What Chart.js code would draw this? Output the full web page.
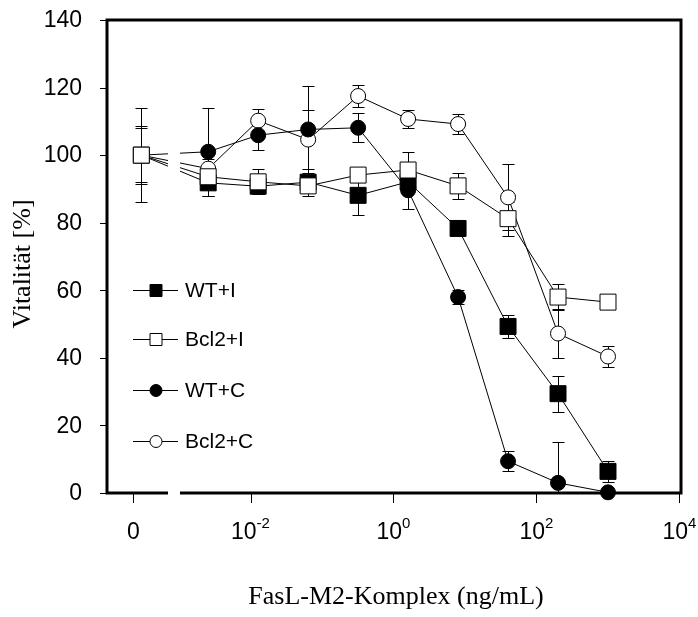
<!DOCTYPE html>
<html>
<head>
<meta charset="utf-8">
<script src="https://cdn.jsdelivr.net/npm/chart.js@4/dist/chart.umd.min.js"></script>
<style>
  html, body { margin: 0; padding: 0; background: #fff; }
  canvas { display: block; }
</style>
</head>
<body>
<canvas id="c" width="698" height="617"></canvas>
<script>
// FasL-M2 complex concentrations (ng/mL); 0 is the untreated control
const concentrations = [0, 0.00256, 0.0128, 0.064, 0.32, 1.6, 8, 40, 200, 1000];

// Viability (%) and error (+/-) per group
const wtI      = [100, 91.8, 90.8, 92.0, 88.1, 92.1, 78.3, 49.3, 29.4, 6.4];
const wtIErr   = [8.5, 4.0, 2.0, 2.0, 5.7, 3.0, 1.5, 3.4, 5.3, 3.2];
const bcl2I    = [100, 93.6, 92.1, 90.9, 94.1, 95.6, 90.9, 81.2, 58.0, 56.5];
const bcl2IErr = [2.0, 2.5, 3.7, 3.0, 2.0, 5.2, 3.8, 5.0, 3.8, 1.5];
const wtC      = [100, 101.0, 105.9, 107.6, 108.1, 89.6, 58.0, 9.4, 3.0, 0.2];
const wtCErr   = [14.0, 13.0, 4.4, 13.0, 4.3, 5.5, 2.0, 3.0, 12.0, 0.5];
const bcl2C    = [100, 96.0, 110.2, 104.6, 117.5, 110.7, 109.2, 87.5, 47.2, 40.4];
const bcl2CErr = [8.0, 3.0, 3.5, 8.7, 3.2, 2.8, 3.0, 9.8, 7.2, 3.0];

const seriesNames = ['WT+I', 'Bcl2+I', 'WT+C', 'Bcl2+C'];

// Axis ticks
const yTicks = [0, 20, 40, 60, 80, 100, 120, 140];
const xTickExponents = [-2, 0, 2, 4];
const zeroTickLabel = '0';

// The x axis is in log10 units; the control group sits left of an axis break
const ZERO_POS = -3.527;       // where the 0 ng/mL points are drawn
const ZERO_TICK_POS = -3.639;  // where the "0" tick sits
const AXIS_BREAK = [-3.154, -2.986];

const xPos = concentrations.map(c => (c === 0 ? ZERO_POS : Math.log10(c)));
const toPoints = vals => vals.map((v, i) => ({ x: xPos[i], y: v }));

const errors = [wtIErr, bcl2IErr, wtCErr, bcl2CErr];

function series(name, vals, style, filled, order) {
  return {
    label: name,
    data: toPoints(vals),
    borderColor: '#000',
    borderWidth: 1,
    pointStyle: style,
    pointRadius: style === 'rect' ? 11.3 : 7.5,
    pointBackgroundColor: filled ? '#000' : '#fff',
    pointBorderColor: '#000',
    pointBorderWidth: 1,
    tension: 0,
    clip: false,
    order: order
  };
}

const SANS = '"Liberation Sans", Arial, sans-serif';
const SERIF = '"Liberation Serif", "Times New Roman", serif';

function drawMarker(ctx, style, filled, x, y, r) {
  ctx.beginPath();
  if (style === 'rect') ctx.rect(x - r, y - r, 2 * r, 2 * r);
  else ctx.arc(x, y, r, 0, Math.PI * 2);
  ctx.fillStyle = filled ? '#000' : '#fff';
  ctx.fill();
  ctx.lineWidth = 1;
  ctx.strokeStyle = '#000';
  ctx.stroke();
}

const decorations = {
  id: 'decorations',
  beforeDatasetsDraw(chart) {
    // error bars behind the markers
    const ctx = chart.ctx, xs = chart.scales.x, ys = chart.scales.y;
    ctx.save();
    ctx.strokeStyle = '#000';
    ctx.lineWidth = 1;
    chart.data.datasets.forEach((ds, di) => {
      const err = errors[di];
      ds.data.forEach((p, j) => {
        const e = err[j];
        if (!e) return;
        const x = Math.round(xs.getPixelForValue(p.x)) + 0.5;
        const yt = Math.round(ys.getPixelForValue(p.y + e)) + 0.5;
        const yb = Math.round(ys.getPixelForValue(Math.max(p.y - e, 0))) + 0.5;
        ctx.beginPath();
        ctx.moveTo(x, yt); ctx.lineTo(x, yb);
        ctx.moveTo(x - 6, yt); ctx.lineTo(x + 6, yt);
        ctx.moveTo(x - 6, yb); ctx.lineTo(x + 6, yb);
        ctx.stroke();
      });
    });
    ctx.restore();
  },
  afterDatasetsDraw(chart) {
    const ctx = chart.ctx, xs = chart.scales.x, ys = chart.scales.y;
    const a = chart.chartArea;
    const bx0 = xs.getPixelForValue(AXIS_BREAK[0]);
    const bx1 = xs.getPixelForValue(AXIS_BREAK[1]);
    ctx.save();

    // axis break gap through the data lines and the x axis
    ctx.fillStyle = '#fff';
    ctx.fillRect(bx0, a.top + 3, bx1 - bx0, a.bottom - a.top + 2);

    // frame
    ctx.strokeStyle = '#000';
    ctx.lineWidth = 3;
    ctx.lineCap = 'butt';
    ctx.beginPath();
    ctx.moveTo(a.left, a.bottom + 1.5); ctx.lineTo(a.left, a.top - 1.5);
    ctx.moveTo(a.left - 1.5, a.top); ctx.lineTo(a.right + 1.5, a.top);
    ctx.moveTo(a.right, a.top); ctx.lineTo(a.right, a.bottom + 1.5);
    ctx.moveTo(a.right + 1.5, a.bottom); ctx.lineTo(bx1, a.bottom);
    ctx.moveTo(bx0, a.bottom); ctx.lineTo(a.left - 1.5, a.bottom);
    ctx.stroke();

    // y ticks and labels
    ctx.lineWidth = 1;
    ctx.fillStyle = '#000';
    ctx.font = '23px ' + SANS;
    ctx.textAlign = 'right';
    ctx.textBaseline = 'middle';
    yTicks.forEach(v => {
      const y = Math.round(ys.getPixelForValue(v)) + 0.5;
      ctx.beginPath();
      ctx.moveTo(a.left - 7, y); ctx.lineTo(a.left - 1, y);
      ctx.stroke();
      ctx.fillText(String(v), 82, ys.getPixelForValue(v) + 1);
    });

    // x ticks and labels
    const tickLen = 10;
    const baseY = 539;
    const drawXTick = px => {
      const x = Math.round(px) + 0.5;
      ctx.beginPath();
      ctx.moveTo(x, a.bottom + 1); ctx.lineTo(x, a.bottom + tickLen);
      ctx.stroke();
    };
    ctx.textBaseline = 'alphabetic';
    const zx = xs.getPixelForValue(ZERO_TICK_POS);
    drawXTick(zx);
    ctx.textAlign = 'center';
    ctx.font = '23px ' + SANS;
    ctx.fillText(zeroTickLabel, zx, baseY);
    xTickExponents.forEach(e => {
      const px = xs.getPixelForValue(e);
      drawXTick(px);
      ctx.font = '23px ' + SANS;
      const base = '10';
      const wb = ctx.measureText(base).width;
      ctx.font = '15px ' + SANS;
      const sup = String(e);
      const ws = ctx.measureText(sup).width;
      const left = px - (wb + ws) / 2;
      ctx.textAlign = 'left';
      ctx.font = '23px ' + SANS;
      ctx.fillText(base, left, baseY);
      ctx.font = '15px ' + SANS;
      ctx.fillText(sup, left + wb, baseY - 11);
    });

    // legend
    const styles = [['rect', true], ['rect', false], ['circle', true], ['circle', false]];
    const legendY = [290, 339, 390, 441];
    ctx.font = '21px ' + SANS;
    ctx.textAlign = 'left';
    ctx.textBaseline = 'middle';
    seriesNames.forEach((name, i) => {
      const y = legendY[i] + 0.5;
      ctx.lineWidth = 1;
      ctx.strokeStyle = '#000';
      ctx.beginPath();
      ctx.moveTo(133, y); ctx.lineTo(178, y);
      ctx.stroke();
      drawMarker(ctx, styles[i][0], styles[i][1], 156, y, 6);
      ctx.fillStyle = '#000';
      ctx.fillText(name, 185, legendY[i] + 1);
    });

    // axis titles
    ctx.font = '26px ' + SERIF;
    ctx.textAlign = 'center';
    ctx.textBaseline = 'alphabetic';
    ctx.fillStyle = '#000';
    ctx.fillText('FasL-M2-Komplex (ng/mL)', 396, 604);
    ctx.save();
    ctx.translate(30, 264);
    ctx.rotate(-Math.PI / 2);
    ctx.fillText('Vitalität [%]', 0, 0);
    ctx.restore();

    ctx.restore();
  }
};

new Chart(document.getElementById('c'), {
  type: 'line',
  data: {
    datasets: [
      series(seriesNames[0], wtI, 'rect', true, 3),
      series(seriesNames[1], bcl2I, 'rect', false, 0),
      series(seriesNames[2], wtC, 'circle', true, 1),
      series(seriesNames[3], bcl2C, 'circle', false, 2)
    ]
  },
  options: {
    responsive: false,
    animation: false,
    devicePixelRatio: 1,
    layout: { padding: { left: 107, right: 17, top: 20, bottom: 124 } },
    scales: {
      x: { type: 'linear', min: -4.007, max: 4.021, display: false },
      y: { type: 'linear', min: 0, max: 140, display: false }
    },
    plugins: {
      legend: { display: false },
      tooltip: { enabled: false }
    },
    events: []
  },
  plugins: [decorations]
});
</script>
</body>
</html>
